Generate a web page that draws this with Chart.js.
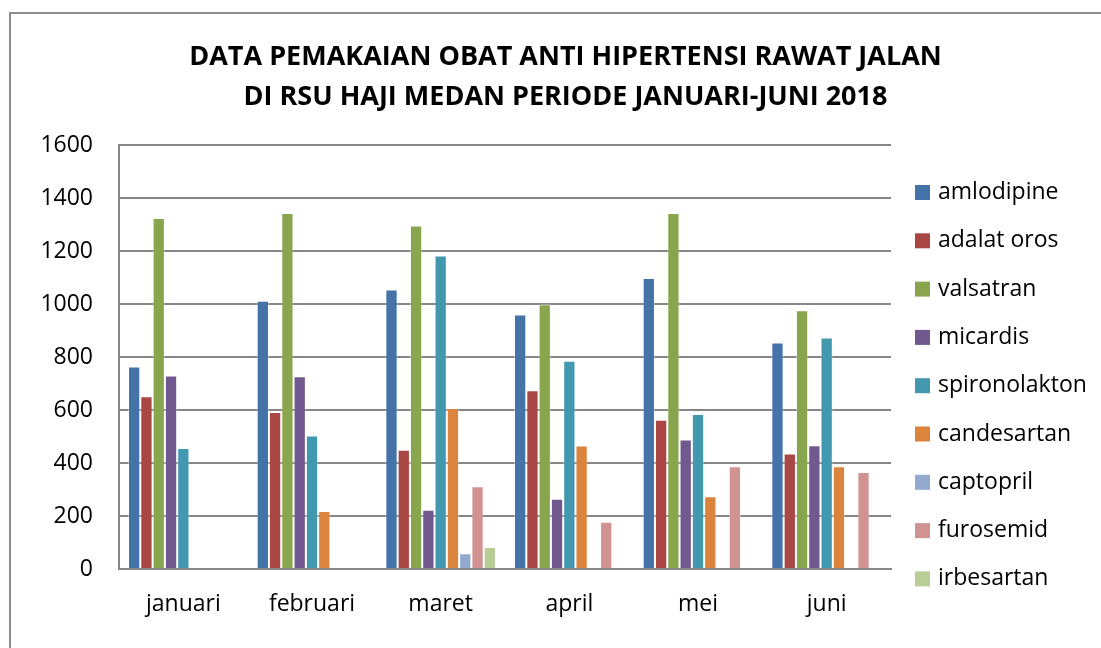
<!DOCTYPE html>
<html>
<head>
<meta charset="utf-8">
<script src="https://cdn.jsdelivr.net/npm/chart.js@4"></script>
<style>
    body { margin: 0; background: #fff; overflow: hidden; }
    #wrap { position: relative; width: 1101px; height: 648px; }
    #frame {
        position: absolute; left: 9px; top: 12px; width: 1200px; height: 700px;
        border: 2px solid #8c8c8c; pointer-events: none;
    }
</style>
</head>
<body>
<div id="wrap">
    <canvas id="obatChart" width="1101" height="648"></canvas>
    <div id="frame"></div>
</div>
<script>
// data
const months = ['januari', 'februari', 'maret', 'april', 'mei', 'juni'];
const amlodipine    = [764, 1012, 1055, 960, 1098, 855];
const adalatOros    = [652, 592, 450, 675, 563, 436];
const valsatran     = [1325, 1343, 1296, 999, 1343, 976];
const micardis      = [730, 727, 224, 265, 489, 467];
const spironolakton = [457, 504, 1183, 786, 585, 874];
const candesartan   = [null, 219, 608, 466, 275, 388];
const captopril     = [null, null, 59, null, null, null];
const furosemid     = [null, null, 312, 178, 388, 366];
const irbesartan    = [null, null, 83, null, null, null];
const yTicks = [0, 200, 400, 600, 800, 1000, 1200, 1400, 1600];

const font = "'Open Sans', 'Liberation Sans', sans-serif";

function ds(label, data, color) {
    return {
        label: label,
        data: data,
        backgroundColor: color,
        borderColor: 'rgba(255,255,255,0.35)',
        borderWidth: { top: 1, left: 1, right: 1, bottom: 0 },
        categoryPercentage: 0.86,
        barPercentage: 1.0
    };
}

// draws the legend to the right of the plot
const sideLegend = {
    id: 'sideLegend',
    afterDraw(chart) {
        const c = chart.ctx;
        c.save();
        c.font = '23px ' + font;
        c.textBaseline = 'middle';
        c.textAlign = 'left';
        chart.data.datasets.forEach((d, i) => {
            const y = 192.5 + i * 48.3;
            c.fillStyle = d.backgroundColor;
            c.fillRect(915, y - 7.5, 15, 15);
            c.fillStyle = '#000';
            c.fillText(d.label, 938, y);
        });
        c.restore();
    }
};

const ctx = document.getElementById('obatChart').getContext('2d');
const obatChart = new Chart(ctx, {
    type: 'bar',
    data: {
        labels: months,
        datasets: [
            ds('amlodipine', amlodipine, '#4572A7'),
            ds('adalat oros', adalatOros, '#AA4643'),
            ds('valsatran', valsatran, '#89A54E'),
            ds('micardis', micardis, '#71588F'),
            ds('spironolakton', spironolakton, '#4198AF'),
            ds('candesartan', candesartan, '#DB843D'),
            ds('captopril', captopril, '#93A9CF'),
            ds('furosemid', furosemid, '#D19392'),
            ds('irbesartan', irbesartan, '#B9CD96')
        ]
    },
    options: {
        responsive: false,
        animation: false,
        layout: { padding: { left: 30, right: 0, top: 0, bottom: 0 } },
        plugins: {
            legend: { display: false },
            tooltip: { enabled: false },
            title: {
                display: true,
                text: ['DATA PEMAKAIAN OBAT ANTI HIPERTENSI RAWAT JALAN',
                       'DI RSU HAJI MEDAN PERIODE JANUARI-JUNI 2018'],
                color: '#000',
                font: { family: font, size: 27, weight: 'bold', lineHeight: 40 / 27 },
                padding: { top: 37, bottom: 28 }
            }
        },
        scales: {
            x: {
                grid: { display: false, drawTicks: false },
                border: { color: '#868686', width: 2 },
                ticks: { color: '#000', font: { family: font, size: 23 }, padding: 22 },
                afterFit: s => { s.height = 79; }
            },
            y: {
                min: 0,
                max: 1600,
                afterBuildTicks: s => { s.ticks = yTicks.map(v => ({ value: v })); },
                grid: { color: '#868686', lineWidth: 2, drawTicks: false },
                border: { color: '#868686', width: 2 },
                ticks: {
                    color: '#000',
                    font: { family: font, size: 23 },
                    padding: 26,
                    callback: v => String(v)
                },
                afterFit: s => { s.width = 89; }
            },
            // empty axis that keeps room for the legend
            side: {
                position: 'right',
                display: true,
                grid: { display: false, drawTicks: false },
                border: { display: false },
                ticks: { display: false },
                afterFit: s => { s.width = 210; }
            }
        }
    },
    plugins: [sideLegend]
});
</script>
</body>
</html>
